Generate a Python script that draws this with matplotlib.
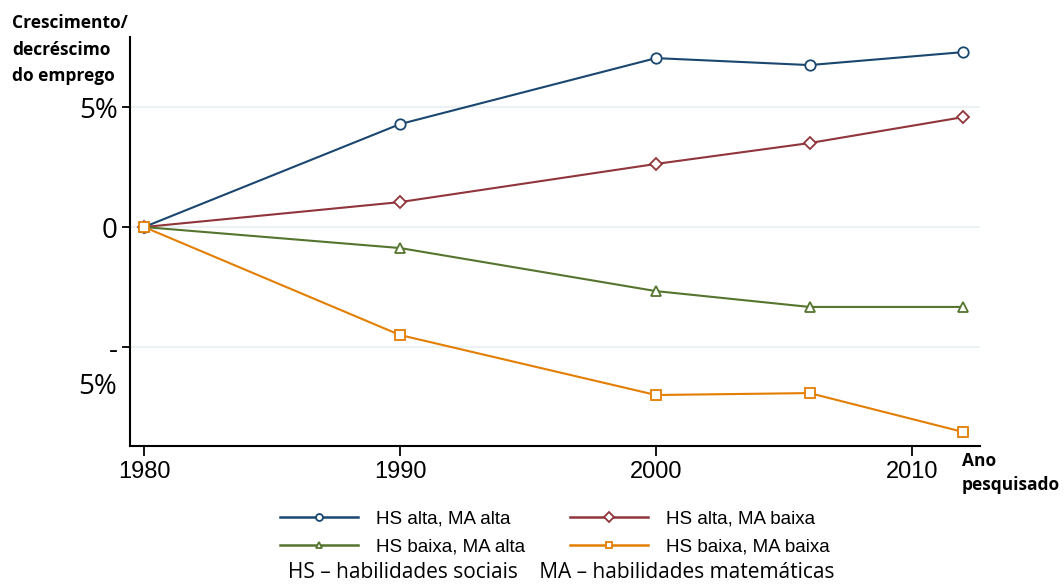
import matplotlib
matplotlib.use("Agg")
import matplotlib.pyplot as plt
from matplotlib.lines import Line2D
from matplotlib.transforms import blended_transform_factory

years = [1980, 1990, 2000, 2006, 2012]
hs_alta_ma_alta = [0.0, 4.29, 7.04, 6.75, 7.29]
hs_alta_ma_baixa = [0.0, 1.04, 2.63, 3.5, 4.58]
hs_baixa_ma_alta = [0.0, -0.875, -2.67, -3.33, -3.33]
hs_baixa_ma_baixa = [0.0, -4.5, -7.0, -6.92, -8.54]

series_labels = ["HS alta, MA alta", "HS alta, MA baixa", "HS baixa, MA alta", "HS baixa, MA baixa"]
x_ticks = [1980, 1990, 2000, 2010]
y_ticks = [5, 0, -5]
y_ticklabels = ["5%", "0", "-"]

colors = ["#1a476f", "#90353b", "#55752f", "#e37e00"]
markers = ["o", "D", "^", "s"]
msizes = [7.5, 6.5, 7.5, 7.5]

fig = plt.figure(figsize=(10.64, 5.84), dpi=100)
ax = fig.add_axes([130/1064, 1-446/584, 850/1064, 409/584])

data = [hs_alta_ma_alta, hs_alta_ma_baixa, hs_baixa_ma_alta, hs_baixa_ma_baixa]
for vals, c, m, ms, lab in zip(data, colors, markers, msizes, series_labels):
    ax.plot(years, vals, color=c, lw=1.5, marker=m, ms=ms, mfc="white",
            mec=c, mew=1.3, label=lab, zorder=3)

ax.set_xlim(1979.45, 2012.66)
ax.set_ylim(-9.125, 7.92)
for y in y_ticks:
    ax.axhline(y, color="#eaf2f3", lw=1.5, zorder=1)

ax.set_xticks(x_ticks)
ax.set_xticklabels([str(t) for t in x_ticks], fontsize=17, family="Liberation Sans")
ax.set_yticks(y_ticks)
ax.set_yticklabels(y_ticklabels, fontsize=20, family="Open Sans")
ax.tick_params(axis="x", length=7, width=1.3, pad=4)
ax.tick_params(axis="y", length=6, width=1.3, pad=3)
ax.text(117/1064, -6.67, "5%", transform=blended_transform_factory(fig.transFigure, ax.transData),
        ha="right", va="center", fontsize=20, family="Open Sans")

for s in ["top", "right"]:
    ax.spines[s].set_visible(False)
for s in ["left", "bottom"]:
    ax.spines[s].set_linewidth(1.5)
    ax.spines[s].set_color("black")

fig.text(12/1064, 1-14/584, "Crescimento/\ndecréscimo\ndo emprego", ha="left", va="top",
         fontsize=12.5, fontweight="bold", family="Open Sans", linespacing=1.62)
fig.text(962/1064, 1-452/584, "Ano\npesquisado", ha="left", va="top",
         fontsize=12.5, fontweight="bold", family="Open Sans", linespacing=1.4)

leg_handles = [Line2D([], [], color=c, lw=1.8, marker=m, ms=5, mfc="white", mec=c, mew=1.3)
               for c, m in zip(colors, markers)]
order = [0, 2, 1, 3]
fig.legend([leg_handles[i] for i in order], [series_labels[i] for i in order],
           ncol=2, loc="center", bbox_to_anchor=(555/1064, 1-532.5/584), frameon=False,
           prop={"family": "Liberation Sans", "size": 13.5}, handlelength=4.16,
           handletextpad=0.96, columnspacing=2.4, labelspacing=0.58)

fig.text(561/1064, 1-573/584, "HS – habilidades sociais    MA – habilidades matemáticas",
         ha="center", va="center", fontsize=15, family="Open Sans")

fig.savefig("out.png", dpi=100)
